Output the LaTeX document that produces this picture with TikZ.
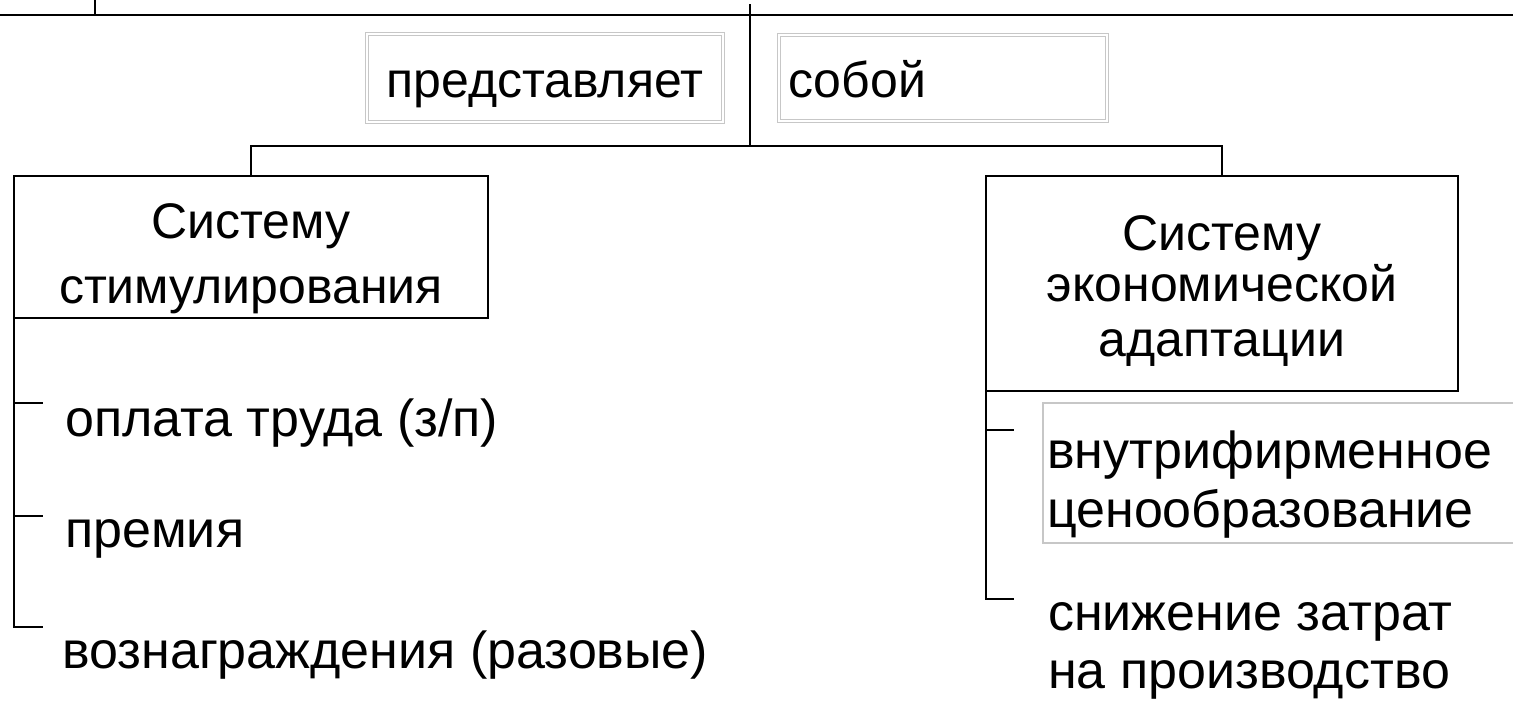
\documentclass[tikz,border=0pt]{standalone}
\usepackage{fontspec}
\setmainfont{Liberation Sans}
\begin{document}
\begin{tikzpicture}[x=1pt,y=-1pt,
  ln/.style={line width=2.2pt, draw=black},
  box/.style={draw=black, line width=2.2pt, inner sep=0pt, outer sep=0pt},
  graybox/.style={draw=black!22, line width=0.9pt, double=white, double distance=2pt, inner sep=0pt, outer sep=0pt},
  lightbox/.style={draw=black!22, line width=1.5pt, inner sep=0pt, outer sep=0pt},
  txt/.style={font=\fontsize{52}{60}\selectfont, inner sep=0pt},
  btxt/.style={font=\fontsize{50}{58}\selectfont, inner sep=0pt}]
\clip (0,0) rectangle (1513,704);
\fill[white] (0,0) rectangle (1513,704);

% boxes
\node[graybox, minimum width=356pt, minimum height=88pt] (pred) at (545,78) {};
\node[graybox, minimum width=328pt, minimum height=86pt] (sob) at (943,78) {};
\node[box, minimum width=474pt, minimum height=142pt] (sL) at (251,247) {};
\node[box, minimum width=472pt, minimum height=215pt] (sR) at (1222,283.5) {};
\node[lightbox, minimum width=487pt, minimum height=140pt] (vnut) at (1286.5,473) {};

% texts
\node[btxt, anchor=base] (tpred) at (545,97) {представляет};
\node[btxt, anchor=base west] (tsob) at (788,97) {собой};
\node[btxt, anchor=base] (tL1) at (251,238) {Систему};
\node[btxt, anchor=base] (tL2) at (251,303) {стимулирования};
\node[btxt, anchor=base] (tR1) at (1222,250) {Систему};
\node[btxt, anchor=base] (tR2) at (1222,301) {экономической};
\node[btxt, anchor=base] (tR3) at (1222,356) {адаптации};
\node[txt, anchor=base west] (i1) at (65,436) {оплата труда (з/п)};
\node[txt, anchor=base west] (i2) at (65,547) {премия};
\node[txt, anchor=base west] (i3) at (62,668) {вознаграждения (разовые)};
\node[txt, anchor=base west] (j1) at (1047,468) {внутрифирменное};
\node[txt, anchor=base west] (j2) at (1047,527) {ценообразование};
\node[txt, anchor=base west] (k1) at (1048,630) {снижение затрат};
\node[txt, anchor=base west] (k2) at (1048,688) {на производство};

% top frame lines
\draw[ln] (0,15) -- (1513,15);
\draw[ln] (95,0) -- (95,15);
\coordinate (topv) at (750,4);
\coordinate (hub) at (750,146);
\draw[ln] (topv) -- (hub);
\draw[ln] (sL.north) |- (hub) -| (sR.north);

% left bracket
\coordinate (l1) at (43,403);
\coordinate (l2) at (43,516);
\coordinate (l3) at (43,627);
\draw[ln] (sL.south west) |- (l3);
\draw[ln] (sL.south west |- l1) -- (l1);
\draw[ln] (sL.south west |- l2) -- (l2);

% right bracket
\coordinate (r1) at (1014,430);
\coordinate (r2) at (1014,599);
\draw[ln] (sR.south west) |- (r2);
\draw[ln] (sR.south west |- r1) -- (r1);
\end{tikzpicture}
\end{document}
